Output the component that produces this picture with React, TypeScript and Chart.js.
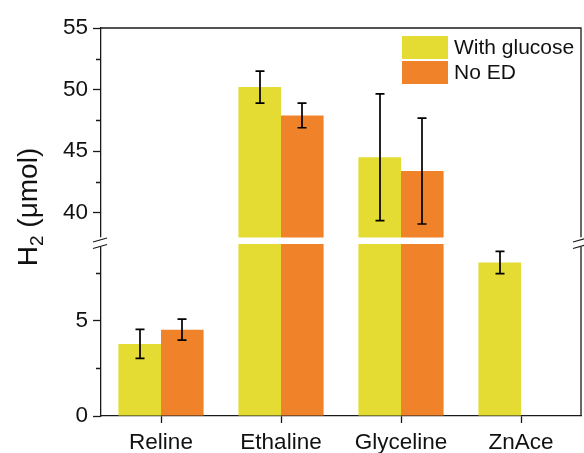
import { useEffect, useRef } from "react";
import { Chart, registerables } from "chart.js";

Chart.register(...registerables);

// Hydrogen yield per solvent, with and without glucose as electron donor
const categories = ["Reline", "Ethaline", "Glyceline", "ZnAce"];
const seriesNames = ["With glucose", "No ED"];
const withGlucose = [3.79, 50.2, 44.5, 8.07];
const withGlucoseErr = [0.76, 1.3, 5.15, 0.58];
const noED = [4.54, 47.9, 43.38, null];
const noEDErr = [0.55, 1.0, 4.3, null];

// Broken y axis: an upper and a lower segment
const upperRange = [37.7, 55];
const lowerRange = [0, 9.2];
const upperTicks = [40, 45, 50, 55];
const upperMinorTicks = [42.5, 47.5, 52.5];
const lowerTicks = [0, 5];
const lowerMinorTicks = [2.5, 7.5];

const seriesColors = ["#E5DC33", "#F0832A"];
const seriesStacks = ["glucose", "noED"];
const AXIS = "#1a1a1a";
const FONT = "'Liberation Sans', Arial, sans-serif";

const tickFont = { family: FONT, size: 22.5 };

function barSet(label: string, data: (number | null)[], err: (number | null)[], color: string, stack: string, yAxisID: string) {
  return {
    label,
    data,
    errors: err,
    backgroundColor: color,
    borderWidth: 0,
    stack,
    xAxisID: "x",
    yAxisID,
    categoryPercentage: 0.71,
    barPercentage: 1,
  };
}

function yAxis(range: number[], major: number[], weight: number) {
  return {
    type: "linear" as const,
    position: "left" as const,
    stack: "h2",
    stackWeight: weight,
    stacked: false,
    min: range[0],
    max: range[1],
    afterBuildTicks: (s: any) => {
      s.ticks = major.map((v) => ({ value: v }));
    },
    afterFit: (s: any) => {
      s.width = 38;
    },
    grid: {
      drawOnChartArea: false,
      drawTicks: true,
      tickLength: 8,
      tickColor: AXIS,
      tickWidth: 1.3,
    },
    border: { display: true, color: AXIS, width: 1.3 },
    ticks: { font: tickFont, color: "#111", padding: 5, autoSkip: false },
  };
}

const decorations = {
  id: "decorations",
  beforeDatasetsDraw(chart: any) {
    const { ctx, chartArea } = chart;
    ctx.save();
    ctx.strokeStyle = AXIS;
    ctx.lineWidth = 1.3;
    // frame: top and right edges
    ctx.beginPath();
    ctx.moveTo(chartArea.left, chartArea.top);
    ctx.lineTo(chartArea.right, chartArea.top);
    ctx.lineTo(chartArea.right, chartArea.bottom);
    ctx.stroke();
    // minor ticks on both y segments
    const minor: [string, number[]][] = [
      ["yHigh", upperMinorTicks],
      ["yLow", lowerMinorTicks],
    ];
    ctx.beginPath();
    for (const [id, vals] of minor) {
      const s = chart.scales[id];
      for (const v of vals) {
        const y = Math.round(s.getPixelForValue(v)) + 0.5;
        ctx.moveTo(chartArea.left - 5, y);
        ctx.lineTo(chartArea.left, y);
      }
    }
    ctx.stroke();
    ctx.restore();
  },
  afterDatasetsDraw(chart: any) {
    const { ctx, chartArea } = chart;
    const b = chart.scales.yHigh.bottom;
    ctx.save();
    // white gap between the two segments
    ctx.fillStyle = "#fff";
    ctx.fillRect(chartArea.left - 3, b - 3.5, chartArea.right - chartArea.left + 6, 6.5);
    ctx.fillRect(chartArea.left - 3, b - 3.5, 6, 9.5);
    ctx.fillRect(chartArea.right - 3, b - 3.5, 6, 9.5);
    // break marks
    ctx.strokeStyle = AXIS;
    ctx.lineWidth = 1.3;
    ctx.beginPath();
    for (const x of [chartArea.left, chartArea.right]) {
      ctx.moveTo(x - 8, b + 1);
      ctx.lineTo(x + 6, b - 3);
      ctx.moveTo(x - 8, b + 7.5);
      ctx.lineTo(x + 6, b + 3.5);
    }
    ctx.stroke();

    // error bars, each clipped to its own axis segment
    chart.data.datasets.forEach((ds: any, i: number) => {
      const meta = chart.getDatasetMeta(i);
      const ys = chart.scales[meta.yAxisID];
      ctx.save();
      ctx.beginPath();
      ctx.rect(chartArea.left, ys.top, chartArea.right - chartArea.left, ys.bottom - ys.top);
      ctx.clip();
      ctx.strokeStyle = "#000";
      ctx.lineWidth = 1.7;
      meta.data.forEach((bar: any, j: number) => {
        const v = ds.data[j];
        const e = ds.errors[j];
        if (v == null || e == null) return;
        const x = Math.round(bar.x);
        const y1 = ys.getPixelForValue(v + e);
        const y2 = ys.getPixelForValue(v - e);
        ctx.beginPath();
        ctx.moveTo(x, y1);
        ctx.lineTo(x, y2);
        ctx.moveTo(x - 4.5, y1);
        ctx.lineTo(x + 4.5, y1);
        ctx.moveTo(x - 4.5, y2);
        ctx.lineTo(x + 4.5, y2);
        ctx.stroke();
      });
      ctx.restore();
    });
    ctx.restore();
  },
  afterDraw(chart: any) {
    const { ctx, chartArea } = chart;
    ctx.save();
    // legend, top right inside the plot
    const lx = chartArea.right - 179;
    seriesNames.forEach((name, i) => {
      const y = chartArea.top + 8 + i * 25;
      ctx.fillStyle = seriesColors[i];
      ctx.fillRect(lx, y, 46, 23);
      ctx.fillStyle = "#111";
      ctx.font = `21px ${FONT}`;
      ctx.textBaseline = "middle";
      ctx.textAlign = "left";
      ctx.fillText(name, lx + 52, y + 12);
    });

    // y axis title with subscript
    ctx.translate(37, 207);
    ctx.rotate(-Math.PI / 2);
    ctx.textBaseline = "alphabetic";
    ctx.textAlign = "left";
    const big = `28px ${FONT}`;
    const small = `19px ${FONT}`;
    ctx.font = big;
    const wH = ctx.measureText("H").width;
    const rest = " (\u03BCmol)";
    const wR = ctx.measureText(rest).width;
    ctx.font = small;
    const w2 = ctx.measureText("2").width;
    let x = -(wH + w2 + wR) / 2;
    ctx.fillStyle = "#111";
    ctx.font = big;
    ctx.fillText("H", x, 0);
    x += wH;
    ctx.font = small;
    ctx.fillText("2", x, 6);
    x += w2;
    ctx.font = big;
    ctx.fillText(rest, x, 0);
    ctx.restore();
  },
};

export default function App() {
  const ref = useRef<HTMLCanvasElement>(null);

  useEffect(() => {
    const canvas = ref.current;
    if (!canvas) return;
    const chart = new Chart(canvas, {
      type: "bar",
      data: {
        labels: categories,
        datasets: [
          barSet(seriesNames[0], withGlucose, withGlucoseErr, seriesColors[0], seriesStacks[0], "yLow"),
          barSet(seriesNames[1], noED, noEDErr, seriesColors[1], seriesStacks[1], "yLow"),
          barSet(seriesNames[0], withGlucose, withGlucoseErr, seriesColors[0], seriesStacks[0], "yHigh"),
          barSet(seriesNames[1], noED, noEDErr, seriesColors[1], seriesStacks[1], "yHigh"),
        ] as any,
      },
      options: {
        animation: false,
        responsive: true,
        maintainAspectRatio: false,
        layout: { padding: { left: 63, top: 28, right: 3, bottom: 0 } },
        plugins: { legend: { display: false }, tooltip: { enabled: false } },
        scales: {
          x: {
            type: "category",
            position: "bottom",
            offset: true,
            afterFit: (s: any) => {
              s.height = 37;
            },
            grid: {
              drawOnChartArea: false,
              drawTicks: true,
              offset: false,
              tickLength: 7,
              tickColor: AXIS,
              tickWidth: 1.3,
            },
            border: { display: true, color: AXIS, width: 1.3 },
            ticks: { font: tickFont, color: "#111", padding: 6, maxRotation: 0 },
          },
          yLow: yAxis(lowerRange, lowerTicks, 175),
          yHigh: yAxis(upperRange, upperTicks, 213),
        } as any,
      },
      plugins: [decorations],
    });
    return () => chart.destroy();
  }, []);

  return (
    <div style={{ position: "fixed", left: 0, top: 0, width: 584, height: 453, background: "#fff" }}>
      <canvas ref={ref} />
    </div>
  );
}
